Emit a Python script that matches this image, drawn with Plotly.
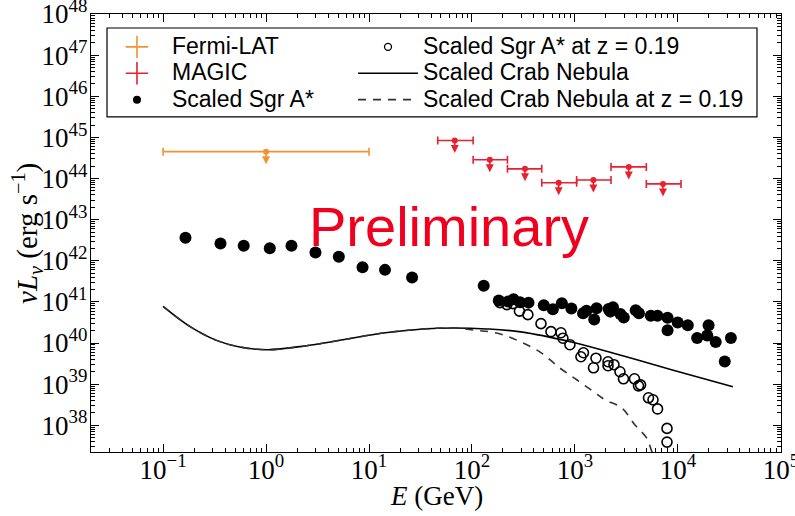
import numpy as np
import plotly.graph_objects as go

# ---------------- data ----------------
fermi_E = [1.0]
fermi_E_lo = [0.1]
fermi_E_hi = [10.0]
fermi_L = [4.5e44]

magic_E = [68, 149, 327, 695, 1510, 3330, 7160]
magic_E_lo = [46.5, 102.6, 221, 476, 1038, 2239, 4932]
magic_E_hi = [102.6, 221, 476, 1038, 2239, 4932, 10715]
magic_L = [8.4e44, 2.86e44, 1.72e44, 7.9e43, 9.2e43, 1.92e44, 7.4e43]

sgr_E = [0.165, 0.361, 0.607, 1.087, 1.766, 3.02, 5.09, 8.65, 14.3, 26.2,
         130, 182, 224, 253, 293, 354, 498, 610, 746, 923, 1199, 1294, 1622,
         1538, 2120, 2205, 2340, 2760, 2980, 3890, 4185, 5450, 6320, 7930,
         7930, 9950, 12470, 15370, 19270, 19850, 23270, 28500, 32700]
sgr_L = [3.62e42, 2.63e42, 2.31e42, 2.02e42, 2.31e42, 1.59e42, 1.25e42,
         6.96e41, 6.01e41, 3.91e41,
         2.48e41, 1.08e41, 1.02e41, 1.16e41, 9.8e40, 9.6e40, 8.3e40, 6.6e40,
         9.3e40, 6.9e40, 5.3e40, 6.1e40, 7.0e40, 3.74e40, 6.7e40, 5.8e40,
         7.4e40, 5.1e40, 4.2e40, 6.3e40, 5.3e40, 4.6e40, 4.6e40, 4.1e40,
         2.05e40, 3.16e40, 2.72e40, 1.32e40, 1.52e40, 2.72e40, 1.06e40,
         3.55e39, 1.32e40]

sgrz_E = [187, 218, 250, 289, 349, 468, 585, 731, 764, 893, 1143, 1209, 1514,
          1600, 2094, 2094, 2393, 2737, 2958, 3785, 4140, 4335, 5176, 5728,
          6339, 7834, 7834]
sgrz_L = [9.6e40, 8.6e40, 9.1e40, 5.96e40, 4.9e40, 2.96e40, 1.89e40, 1.78e40,
          1.31e40, 9.1e39, 4.64e39, 5.8e39, 2.5e39, 4.27e39, 3.5e39, 2.8e39,
          2.97e39, 2.0e39, 1.35e39, 1.35e39, 9.1e38, 9.6e38, 4.66e38, 4.16e38,
          2.5e38, 8.4e37, 3.9e37]

crab_E = [0.1, 0.1816, 0.330, 0.555, 1.045, 2.47, 5.60, 13.7, 33.6, 65.2,
          138.7, 298, 923, 2851, 8830, 34200]
crab_L = [7.8e40, 2.54e40, 1.16e40, 8.0e39, 6.87e39, 8.6e39, 1.2e40, 1.75e40,
          2.2e40, 2.32e40, 2.2e40, 1.87e40, 1.06e40, 4.97e39, 2.21e39, 8.6e38]

crabz_E = [0.1, 0.1816, 0.330, 0.555, 1.045, 2.47, 5.60, 13.7, 33.6, 65.2,
           111, 173, 292, 474, 714, 1040, 1507, 1959, 2844, 3828, 4977, 5598, 6700]
crabz_L = [7.8e40, 2.54e40, 1.16e40, 8.0e39, 6.87e39, 8.6e39, 1.2e40, 1.75e40,
           2.2e40, 2.32e40, 2.03e40, 1.75e40, 1.09e40, 5.7e39, 2.46e39, 1.28e39,
           6.6e38, 4.16e38, 2.65e38, 1.02e38, 4.85e37, 2.25e37, 8.1e36]

x_tick_exp = [-1, 0, 1, 2, 3, 4, 5]
y_tick_exp = [38, 39, 40, 41, 42, 43, 44, 45, 46, 47, 48]

# ---------------- styles ----------------
ORANGE = "#F5922F"
RED = "#E8202F"
SERIF = "Liberation Serif, DejaVu Serif, serif"
SANS = "Liberation Sans, Arial, sans-serif"
LEG_TXT = 23


def sup(e):
    return "10<sup>" + (str(e) if e >= 0 else "\u2212" + str(-e)) + "</sup>"


def lname(s):
    return '<span style="font-size:%dpx">%s</span>' % (LEG_TXT, s)


fig = go.Figure()

# ---- data traces ----
fig.add_trace(go.Scatter(
    x=crab_E, y=crab_L, mode="lines", name=lname("Scaled Crab Nebula"),
    line=dict(color="black", width=1.6, shape="spline", smoothing=1.0),
    legend="legend2", legendrank=2))
fig.add_trace(go.Scatter(
    x=crabz_E, y=crabz_L, mode="lines", name=lname("Scaled Crab Nebula at z = 0.19"),
    line=dict(color="#333333", width=1.6, dash="8px,7px", shape="spline", smoothing=1.0),
    legend="legend2", legendrank=3))
fig.add_trace(go.Scatter(
    x=sgrz_E, y=sgrz_L, mode="markers", showlegend=False,
    marker=dict(symbol="circle-open", size=10, color="black", line=dict(width=1.6))))
fig.add_trace(go.Scatter(
    x=sgr_E, y=sgr_L, mode="markers", showlegend=False,
    marker=dict(symbol="circle", size=12, color="black")))
fig.add_trace(go.Scatter(
    x=fermi_E, y=fermi_L, mode="markers", showlegend=False,
    marker=dict(symbol="circle", size=6, color=ORANGE),
    error_x=dict(type="data", symmetric=False,
                 array=[h - e for h, e in zip(fermi_E_hi, fermi_E)],
                 arrayminus=[e - l for l, e in zip(fermi_E_lo, fermi_E)],
                 color=ORANGE, thickness=1.6, width=4)))
fig.add_trace(go.Scatter(
    x=magic_E, y=magic_L, mode="markers", showlegend=False,
    marker=dict(symbol="circle", size=6, color=RED),
    error_x=dict(type="data", symmetric=False,
                 array=[h - e for h, e in zip(magic_E_hi, magic_E)],
                 arrayminus=[e - l for l, e in zip(magic_E_lo, magic_E)],
                 color=RED, thickness=1.6, width=4)))


# ---- legend key entries (no data, symbol only) ----
def key(name, marker, legend, rank):
    fig.add_trace(go.Scatter(x=[None], y=[None], mode="markers", name=lname(name),
                             marker=marker, legend=legend, legendrank=rank))


key("Fermi-LAT", dict(symbol="cross-thin", size=16, color=ORANGE,
                      line=dict(width=1.6, color=ORANGE)), "legend", 1)
key("MAGIC", dict(symbol="cross-thin", size=16, color=RED,
                  line=dict(width=1.6, color=RED)), "legend", 2)
key("Scaled Sgr A*", dict(symbol="circle", size=8, color="black"), "legend", 3)
key("Scaled Sgr A* at z = 0.19", dict(symbol="circle-open", size=7, color="black",
                                      line=dict(width=1.3)), "legend2", 1)

annotations = []
for E, L, col in ([(e, l, ORANGE) for e, l in zip(fermi_E, fermi_L)] +
                  [(e, l, RED) for e, l in zip(magic_E, magic_L)]):
    annotations.append(dict(
        x=np.log10(E), y=np.log10(L), xref="x", yref="y", text="",
        showarrow=True, ax=0, ay=14, arrowside="start", startarrowhead=2,
        startarrowsize=1.0, arrowwidth=1.6, arrowcolor=col,
        standoff=0, startstandoff=0, font=dict(size=1)))

annotations.append(dict(
    x=0.519, y=0.515, xref="paper", yref="paper", text="Preliminary",
    showarrow=False, font=dict(family=SANS, size=56, color="rgb(240,0,30)")))

annotations.append(dict(
    x=0.5, y=-0.1005, xref="paper", yref="paper", text="<i>E</i> (GeV)",
    yanchor="middle", showarrow=False,
    font=dict(family=SERIF, size=27, color="black")))

annotations.append(dict(
    x=-0.0928, y=0.5, xref="paper", yref="paper",
    text="<i>\u03bdL<sub>\u03bd</sub></i> (erg s<sup>\u22121</sup>)",
    textangle=-90, xanchor="center", yanchor="middle", showarrow=False,
    font=dict(family=SERIF, size=29, color="black")))

leg_common = dict(
    orientation="v", xanchor="left", yanchor="top", itemwidth=60,
    font=dict(family=SANS, size=18, color="black"),
    bgcolor="rgba(0,0,0,0)", borderwidth=0, tracegroupgap=0)

fig.update_layout(
    width=795, height=516,
    margin=dict(l=91, r=14, t=14, b=64, autoexpand=False),
    paper_bgcolor="white", plot_bgcolor="white",
    annotations=annotations,
    showlegend=True,
    legend=dict(x=0.0159, y=0.9666, **leg_common),
    legend2=dict(x=0.3797, y=0.9666, **leg_common),
    shapes=[dict(type="rect", xref="paper", yref="paper",
                 x0=0.0232, x1=0.9652, y0=0.765, y1=0.968,
                 line=dict(color="black", width=1.2))],
)

minor_x = [m * 10.0 ** k for k in range(-2, 6) for m in range(2, 10)]
minor_y = [m * 10.0 ** k for k in range(37, 48) for m in range(2, 10)]

fig.update_xaxes(
    type="log", range=[-1.70, 5.001], automargin=False,
    tickvals=[10.0 ** e for e in x_tick_exp], ticktext=[sup(e) for e in x_tick_exp],
    ticks="inside", ticklen=8, tickwidth=1, tickcolor="black",
    minor=dict(ticks="inside", ticklen=4, tickwidth=1, tickcolor="black",
               tickvals=minor_x, showgrid=False),
    showline=True, linecolor="black", linewidth=1.3, mirror="allticks",
    showgrid=False, zeroline=False, ticklabelstandoff=-7, ticklabeloverflow="allow",
    tickfont=dict(family=SERIF, size=27, color="black"),
)
fig.update_yaxes(
    type="log", range=[37.35, 48.001], automargin=False,
    tickvals=[10.0 ** e for e in y_tick_exp], ticktext=[sup(e) for e in y_tick_exp],
    ticks="inside", ticklen=8, tickwidth=1, tickcolor="black",
    minor=dict(ticks="inside", ticklen=4, tickwidth=1, tickcolor="black",
               tickvals=minor_y, showgrid=False),
    showline=True, linecolor="black", linewidth=1.3, mirror="allticks",
    showgrid=False, zeroline=False, ticklabelstandoff=-3, ticklabeloverflow="allow",
    tickfont=dict(family=SERIF, size=27, color="black"),
)

fig.write_html("out.html", config={"displayModeBar": False},
               post_script="document.body.style.margin='0px';")
